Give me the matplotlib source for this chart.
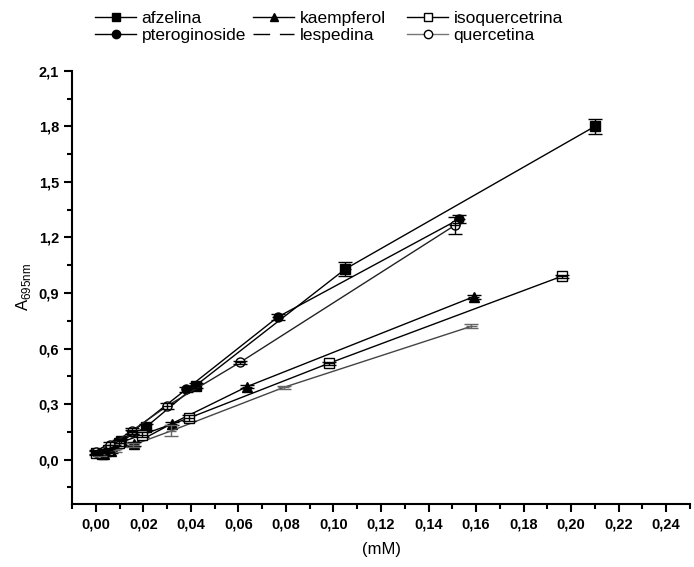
import matplotlib
matplotlib.use("Agg")
import matplotlib.pyplot as plt
from matplotlib.lines import Line2D
from matplotlib.ticker import MultipleLocator, FuncFormatter

plt.rcParams['font.family'] = ['Liberation Sans', 'DejaVu Sans']

# data (concentration in mM, absorbance at 695 nm)
afz_x = [0.0026, 0.0053, 0.0105, 0.021, 0.042, 0.105, 0.21]
afz_y = [0.03, 0.05, 0.10, 0.175, 0.40, 1.03, 1.80]
afz_err = [0.01, 0.01, 0.01, 0.015, 0.015, 0.04, 0.04]

pte_x = [0.003, 0.0077, 0.0153, 0.038, 0.0765, 0.153]
pte_y = [0.04, 0.07, 0.15, 0.38, 0.77, 1.30]
pte_err = [0.01, 0.01, 0.01, 0.015, 0.015, 0.02]

kae_x = [0.0032, 0.0064, 0.016, 0.032, 0.0637, 0.159]
kae_y = [0.03, 0.045, 0.085, 0.195, 0.395, 0.88]
kae_err = [0.01, 0.01, 0.01, 0.01, 0.01, 0.01]

les_x = [0.0016, 0.0079, 0.0158, 0.0316, 0.079, 0.158]
les_y = [0.03, 0.05, 0.08, 0.155, 0.39, 0.72]
les_err = [0.01, 0.01, 0.01, 0.03, 0.01, 0.01]

iso_x = [0.0, 0.0049, 0.0098, 0.0196, 0.0392, 0.098, 0.196]
iso_y = [0.035, 0.05, 0.09, 0.135, 0.225, 0.52, 0.99]
iso_err = [0.01, 0.01, 0.015, 0.015, 0.015, 0.01, 0.01]

que_x = [0.0, 0.0035, 0.006, 0.015, 0.030, 0.0606, 0.151]
que_y = [0.04, 0.045, 0.08, 0.155, 0.29, 0.525, 1.265]
que_err = [0.01, 0.01, 0.015, 0.015, 0.015, 0.01, 0.045]

series = [
    ('afzelina', afz_x, afz_y, afz_err, 's', 'black', 'black'),
    ('pteroginoside', pte_x, pte_y, pte_err, 'o', 'black', 'black'),
    ('kaempferol', kae_x, kae_y, kae_err, '^', 'black', 'black'),
    ('lespedina', les_x, les_y, les_err, 'None', '#444444', 'none'),
    ('isoquercetrina', iso_x, iso_y, iso_err, 's', 'black', 'white'),
    ('quercetina', que_x, que_y, que_err, 'o', '#222222', 'white'),
]

fig = plt.figure(figsize=(6.94, 5.67), dpi=100)
ax = fig.add_axes([0.104, 0.111, 0.89, 0.764])

handles = {}
for name, x, y, err, mk, col, fc in series:
    ax.plot(x, y, color=col, lw=1.0, marker=mk, mfc=fc, mec='black',
            markersize=6.5, zorder=2)
    ecol = '#666666' if name == 'lespedina' else 'black'
    # error bars drawn over the symbols, as in the reference
    ax.errorbar(x, y, yerr=err, fmt='none', ecolor=ecol, capsize=5,
                elinewidth=1.0, capthick=1.0, zorder=3)
    ax.errorbar(x, y, xerr=0.0022, fmt='none', ecolor=ecol, capsize=0,
                elinewidth=1.0, zorder=3)
    if name == 'lespedina':
        h = Line2D([], [], color='black', lw=1.0, dashes=(12, 7))
    else:
        lcol = '#777777' if name == 'quercetina' else col
        h = Line2D([], [], color=lcol, lw=1.0, marker=mk, mfc=fc, mec='black',
                   markersize=6)
    handles[name] = h

ax.set_xlim(-0.01, 0.25)
ax.set_ylim(-0.24, 2.1)

ax.xaxis.set_major_locator(MultipleLocator(0.02))
ax.xaxis.set_minor_locator(MultipleLocator(0.01))
ax.yaxis.set_major_locator(MultipleLocator(0.3))
ax.yaxis.set_minor_locator(MultipleLocator(0.15))

ax.xaxis.set_major_formatter(FuncFormatter(lambda v, p: f"{v:.2f}".replace('.', ',')))
ax.yaxis.set_major_formatter(FuncFormatter(lambda v, p: f"{v:.1f}".replace('.', ',')))

for s in ['top', 'right']:
    ax.spines[s].set_visible(False)
for s in ['left', 'bottom']:
    ax.spines[s].set_linewidth(1.5)

ax.tick_params(which='major', direction='out', length=6, width=1.5, labelsize=10.5)
ax.tick_params(which='minor', direction='out', length=3.5, width=1.5)
for lab in ax.get_xticklabels() + ax.get_yticklabels():
    lab.set_fontweight('bold')

ax.set_xlabel('(mM)', fontsize=12, labelpad=8)
ax.set_ylabel(r'A$_{\mathregular{695nm}}$', fontsize=12, labelpad=4)

# legend in three tab-aligned columns above the plot
columns = [['afzelina', 'pteroginoside'],
           ['kaempferol', 'lespedina'],
           ['isoquercetrina', 'quercetina']]
col_x = [86, 244, 398]
for names, px in zip(columns, col_x):
    fig.legend([handles[n] for n in names], names, loc='upper left',
               bbox_to_anchor=(px / 694, 1 - 2 / 567), frameon=False,
               fontsize=12.5, handlelength=2.4, handletextpad=0.3,
               labelspacing=0.1, borderpad=0)

fig.savefig('out.png', dpi=100)
